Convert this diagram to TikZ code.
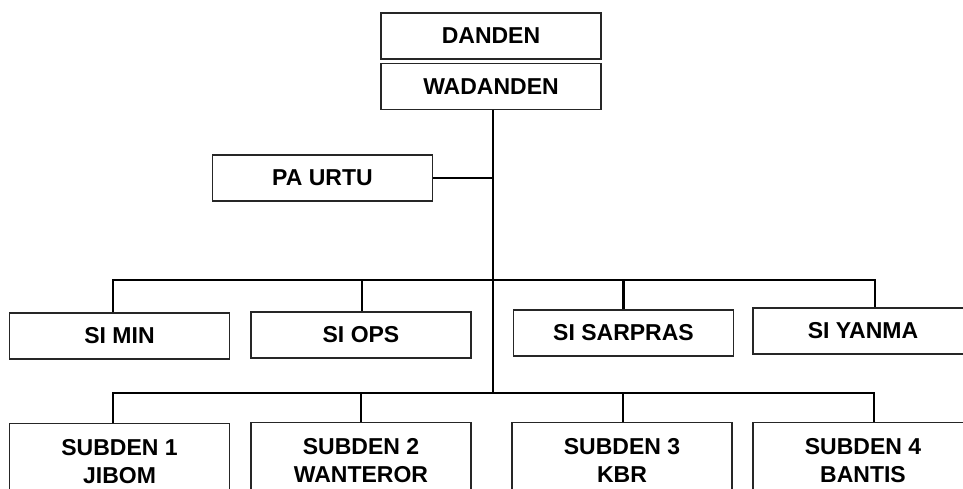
\documentclass[tikz,border=0pt]{standalone}
\usepackage{fontspec}
\setmainfont{Liberation Sans}
\usetikzlibrary{positioning}
\tikzset{unit box/.style={rectangle,draw=black!85,line width=1.2pt,fill=white,minimum width=220pt,minimum height=46pt,inner sep=0pt,font=\fontsize{23}{28}\selectfont\bfseries},
         sub box/.style={unit box,anchor=north,minimum height=0pt,inner ysep=16pt,text depth=60pt,align=center},
         link/.style={line width=2.2pt,black},
            }

\begin{document}
\begin{tikzpicture}[x=1pt,y=-1pt]
    \useasboundingbox (0,0) rectangle (963,488);

    \node[unit box] (danden) at (491,36) {DANDEN};
    \node[unit box] (wadanden) [below = 3pt of danden] {WADANDEN};
    \node[unit box] (paurtu) at (322.5,178) {PA URTU};

    \node[unit box] (simin) at (119.5,336) {SI MIN};
    \node[unit box] (siops) at (361,335) {SI OPS};
    \node[unit box] (sisarpras) at (623.5,333) {SI SARPRAS};
    \node[unit box] (siyanma) at (863,331) {SI YANMA};

    \node[sub box] (subden1) at (119.5,423) {SUBDEN 1\\JIBOM};
    \node[sub box] (subden2) at (361,422) {SUBDEN 2\\WANTEROR};
    \node[sub box] (subden3) at (622,422) {SUBDEN 3\\KBR};
    \node[sub box] (subden4) at (863,422) {SUBDEN 4\\BANTIS};

    \coordinate (bus1) at (493,280);
    \coordinate (bus2) at (493,393);

    % trunk
    \draw[link] ([xshift=2pt]wadanden.south) -- (bus2);
    \draw[link] (paurtu.east) -- (paurtu.east -| bus2);

    % staff
    \draw[link] ([xshift=-6.5pt]simin.north) |- (bus1) -| ([xshift=12pt]siyanma.north);
    \draw[link] ([xshift=1pt]siops.north) -- ([xshift=1pt]siops.north |- bus1);
    \draw[link] (sisarpras.north) -- (sisarpras.north |- bus1);

    % subden
    \draw[link] ([xshift=-6.5pt]subden1.north) |- (bus2) -| ([xshift=11pt]subden4.north);
    \draw[link] (subden2.north) -- (subden2.north |- bus2);
    \draw[link] ([xshift=1pt]subden3.north) -- ([xshift=1pt]subden3.north |- bus2);
\end{tikzpicture}
\end{document}
